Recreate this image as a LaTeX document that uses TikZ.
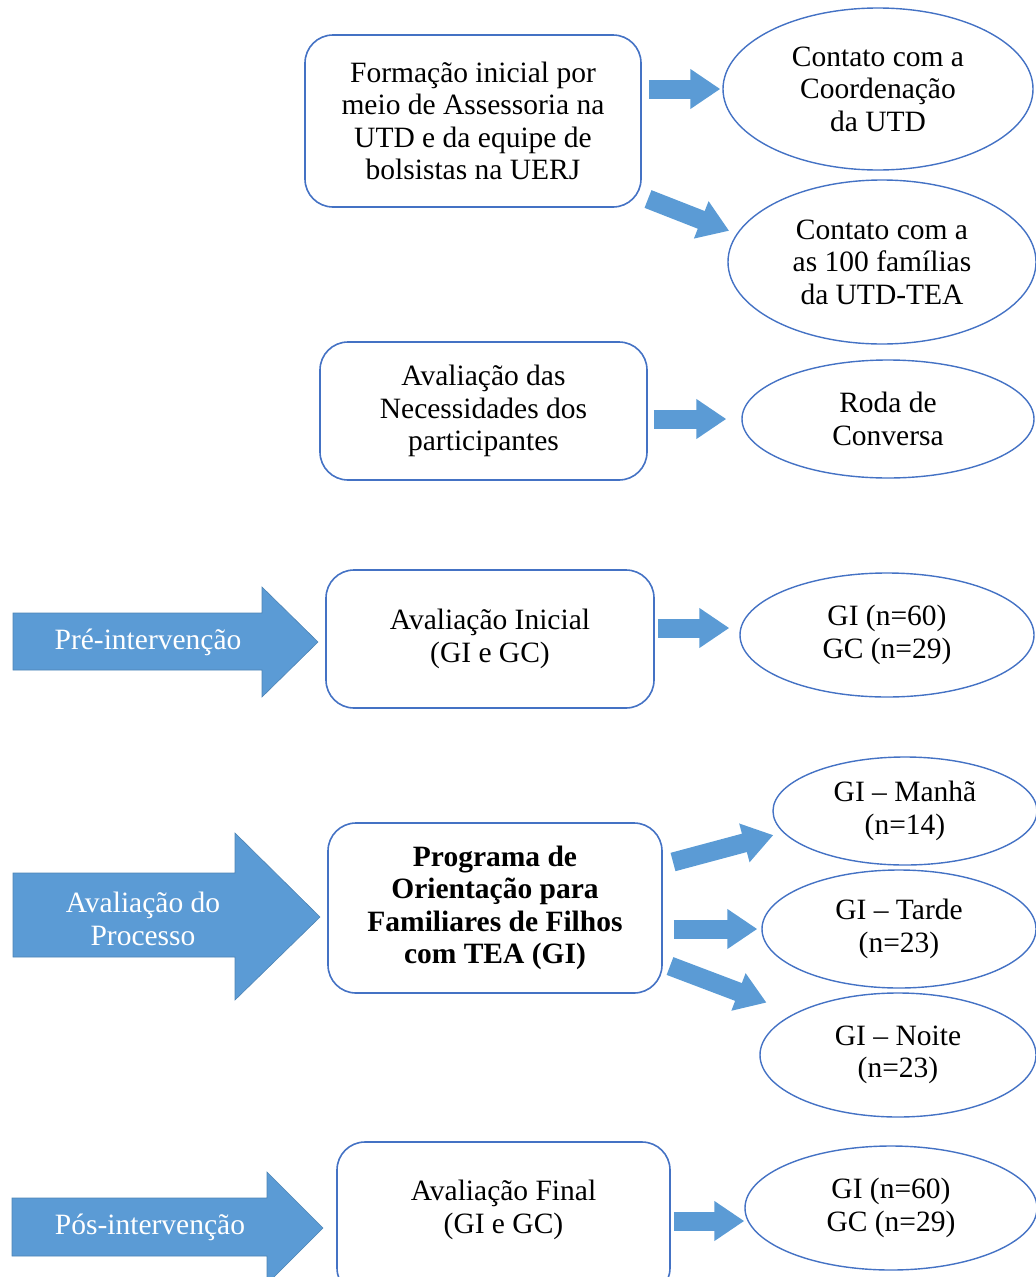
\documentclass[tikz,border=0pt]{standalone}
\usepackage{fontspec}
\setmainfont{Liberation Serif}
\usetikzlibrary{shapes.geometric,arrows.meta,calc}
\definecolor{boxblue}{HTML}{4472C4}
\definecolor{arrblue}{HTML}{5B9BD5}
\begin{document}
\begin{tikzpicture}[x=1pt,y=-1pt,
  every node/.style={font=\fontsize{29.5}{32.5}\selectfont},
  box/.style={draw=boxblue, line width=1.6pt, rounded corners=28pt, align=center, inner sep=0pt},
  oval/.style={draw=boxblue, line width=1.4pt, ellipse, align=center, inner sep=0pt},
  txt/.style={align=center, inner sep=0pt},
  conn/.style={draw=arrblue, line width=19pt, -{Triangle[length=30pt,width=38pt]}},
  bigarrow/.style={fill=arrblue, draw=arrblue!85!black, line width=0.6pt},
  lbl/.style={text=white, align=center, inner sep=0pt}
]
\useasboundingbox (0,0) rectangle (1036,1277);
\clip (0,0) rectangle (1036,1277);

% boxes
\node[box, minimum width=336pt, minimum height=172pt] (b1) at (473,121)
  {Formação inicial por\\meio de Assessoria na\\UTD e da equipe de\\bolsistas na UERJ};
\node[box, minimum width=327pt, minimum height=138pt] (b2) at (483.5,411)
  {Avaliação das\\Necessidades dos\\participantes};
\node[box, minimum width=328pt, minimum height=138pt] (b3) at (490,639)
  {Avaliação Inicial\\(GI e GC)};
\node[box, minimum width=334pt, minimum height=170pt] (b4) at (495,908)
  {\bfseries Programa de\\\bfseries Orientação para\\\bfseries Familiares de Filhos\\\bfseries com TEA (GI)};
\node[box, minimum width=333pt, minimum height=154pt] (b5) at (503.5,1219) {};
\node[txt] (b5t) at (503.5,1210) {Avaliação Final\\(GI e GC)};

% ellipses
\node[oval, minimum width=310pt, minimum height=162pt] (e1) at (878,89)
  {Contato com a\\Coordenação\\da UTD};
\node[oval, minimum width=308pt, minimum height=164pt] (e2) at (882,262)
  {Contato com a\\as 100 famílias\\da UTD-TEA};
\node[oval, minimum width=292pt, minimum height=118pt] (e3) at (888,419)
  {Roda de\\Conversa};
\node[oval, minimum width=294pt, minimum height=124pt] (e4) at (887,635)
  {GI (n=60)\\GC (n=29)};
\node[oval, minimum width=264pt, minimum height=108pt] (e5) at (905,811)
  {GI – Manhã\\(n=14)};
\node[oval, minimum width=274pt, minimum height=118pt] (e6) at (899,929)
  {GI – Tarde\\(n=23)};
\node[oval, minimum width=276pt, minimum height=124pt] (e7) at (898,1055)
  {GI – Noite\\(n=23)};
\node[oval, minimum width=292pt, minimum height=124pt] (e8) at (891,1208)
  {GI (n=60)\\GC (n=29)};

% big stage arrows
\path[bigarrow] (13,613) -- (262,613) -- (262,587) -- (318,642) -- (262,697) -- (262,670) -- (13,670) -- cycle;
\node[lbl] (pre) at (148,642) {Pré-intervenção};
\path[bigarrow] (13,873) -- (235,873) -- (235,833) -- (320,917) -- (235,1000) -- (235,957) -- (13,957) -- cycle;
\node[lbl] (proc) at (143,919) {Avaliação do\\Processo};
\path[bigarrow] (12,1198) -- (267,1198) -- (267,1172) -- (323,1228) -- (267,1284) -- (267,1256) -- (12,1256) -- cycle;
\node[lbl] (pos) at (150,1227) {Pós-intervenção};

% connectors
\coordinate (t2) at (648,199);
\coordinate (tM) at (673,862);
\coordinate (tN) at (670,966);
\draw[conn, shorten <=7pt, shorten >=2pt] (b1.east |- e1.west) -- (e1.west);
\draw[conn, shorten >=8pt] (t2) -- (e2.169);
\draw[conn, shorten <=6pt, shorten >=15pt] (b2.east |- e3.west) -- (e3.west);
\draw[conn, shorten <=3pt, shorten >=10pt] ($(b3.east |- e4.west)+(0,-7)$) -- ($(e4.west)+(0,-7)$);
\draw[conn, shorten >=10pt] (tM) -- (e5.190);
\draw[conn, shorten <=11pt, shorten >=4pt] (b4.east |- e6.west) -- (e6.west);
\draw[conn, shorten >=30pt] (tN) -- (e7.158);
\draw[conn, shorten <=3pt] ($(b5.east |- e8.west)+(0,13)$) -- ($(e8.west)+(0,13)$);
\end{tikzpicture}
\end{document}
